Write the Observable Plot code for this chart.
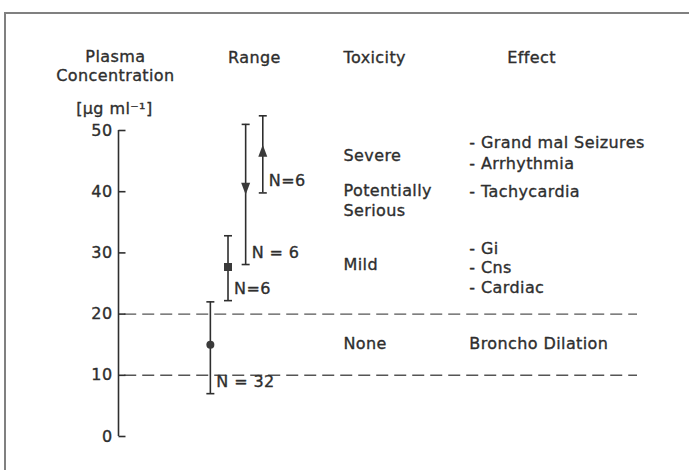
<!DOCTYPE html>
<html>
<head>
<meta charset="utf-8">
<script src="https://cdn.jsdelivr.net/npm/d3@7"></script>
<script src="https://cdn.jsdelivr.net/npm/@observablehq/plot@0.6"></script>
<style>
  html, body { margin: 0; padding: 0; background: #fff; overflow: hidden; }
  #wrap { position: relative; width: 689px; height: 470px; }
  #frame { position: absolute; left: 4px; top: 12px; width: 700px; height: 480px;
           border-top: 2px solid #808080; border-left: 2px solid #808080; box-sizing: border-box; }
  #chart { position: absolute; left: 0; top: 0; }
  #chart text { letter-spacing: 0.4px; }
</style>
</head>
<body>
<div id="wrap"><div id="frame"></div><div id="chart"></div></div>
<script>
// ---- data ----
const groups   = ["g1", "g2", "g3", "g4"];
const groupX   = [17.7, 21.1, 24.5, 27.8];      // position along the "Range" column
const midVal   = [15, 27.7, 40.5, 46.7];
const lowVal   = [7, 22.2, 28.1, 39.8];
const highVal  = [22, 32.8, 51, 52.4];
const nLabels  = ["N = 32", "N=6", "N = 6", "N=6"];
const markers  = ["circle", "square", "triangleDown", "triangleUp"];

const yTicks   = [0, 10, 20, 30, 40, 50];
const thresholds = [10, 20];

const toxLabels = ["Severe", "Potentially", "Serious", "Mild", "None"];
const toxY      = [45.9, 40.2, 36.8, 28.1, 15.2];

const effectLabels = ["- Grand mal Seizures", "- Arrhythmia", "- Tachycardia", "- Gi", "- Cns", "- Cardiac", "Broncho Dilation"];
const effectY      = [47.9, 44.6, 40.0, 30.7, 27.5, 24.3, 15.2];

const headers  = ["Plasma", "Concentration", "[µg ml⁻¹]", "Range", "Toxicity", "Effect"];
const headerX  = [-0.6, -0.6, -0.8, 26.2, 43.35, 79.6];
const headerDy = [-80, -61, -28, -79, -79, -79];
const headerAnchor = ["middle", "middle", "middle", "middle", "start", "middle"];

const toxX = 43.35, effectX = 67.6;

// ---- build rows ----
const bars = groups.map((g, i) => ({g, x: groupX[i], mid: midVal[i], low: lowVal[i], high: highVal[i], n: nLabels[i], m: markers[i]}));
const caps = bars.flatMap(d => [{x: d.x, y: d.low}, {x: d.x, y: d.high}]);
const tox = toxLabels.map((t, i) => ({t, y: toxY[i]}));
const eff = effectLabels.map((t, i) => ({t, y: effectY[i]}));
const hdr = headers.map((t, i) => ({t, x: headerX[i], dy: headerDy[i], a: headerAnchor[i]}));

// custom symbols
const triDown = {draw(c) { c.moveTo(-4.5, -6); c.lineTo(4.5, -6); c.lineTo(0, 6); c.closePath(); }};
const triUp   = {draw(c) { c.moveTo(-4.5, 6); c.lineTo(4.5, 6); c.lineTo(0, -6); c.closePath(); }};
const square  = {draw(c) { c.rect(-4, -4, 8, 8); }};
const circle  = {draw(c) { c.moveTo(4, 0); c.arc(0, 0, 4, 0, 2 * Math.PI); }};
const capSym  = {draw(c) { c.moveTo(-4, 0); c.lineTo(4, 0); }};
const tickSym = {draw(c) { c.moveTo(0, 0); c.lineTo(7, 0); }};
const symMap = {circle, square, triangleDown: triDown, triangleUp: triUp};

const ink = "#2e2e2e";
const font = "DejaVu Sans, sans-serif";
const fs = 16;
const txt = {fill: ink, stroke: ink, strokeWidth: 0.35, fontSize: fs};

const chart = Plot.plot({
  width: 689,
  height: 470,
  marginTop: 130,
  marginBottom: 34,
  marginLeft: 118,
  marginRight: 52,
  style: {fontFamily: font, fontSize: fs + "px", color: ink, background: "transparent"},
  x: {domain: [0, 100], axis: null},
  y: {domain: [0, 50], axis: null},
  marks: [
    // threshold dashed lines
    Plot.ruleY(thresholds, {x1: 1.2, x2: 100, stroke: "#555", strokeWidth: 1.4, strokeDasharray: "12,6"}),
    // y axis line
    Plot.ruleX([0], {y1: 0, y2: 50, stroke: ink, strokeWidth: 1.6}),
    // y ticks pointing inward
    Plot.dot(yTicks, {x: 0, y: d => d, symbol: tickSym, stroke: ink, strokeWidth: 1.6, fill: "none"}),
    Plot.text(yTicks, {x: 0, y: d => d, text: d => String(d), textAnchor: "end", dx: -6, ...txt}),
    // error bars
    Plot.ruleX(bars, {x: "x", y1: "low", y2: "high", stroke: ink, strokeWidth: 1.6}),
    Plot.dot(caps, {x: "x", y: "y", symbol: capSym, stroke: ink, strokeWidth: 1.6, fill: "none"}),
    Plot.dot(bars, {x: "x", y: "mid", symbol: d => symMap[d.m], fill: "#3a3a3a", stroke: "none"}),
    Plot.text(bars, {x: "x", y: "low", text: "n", textAnchor: "start", dx: 6, dy: -12, ...txt}),
    // toxicity and effect columns
    Plot.text(tox, {x: toxX, y: "y", text: "t", textAnchor: "start", ...txt}),
    Plot.text(eff, {x: effectX, y: "y", text: "t", textAnchor: "start", ...txt}),
    // headers
    ...hdr.map(h => Plot.text([h], {x: "x", frameAnchor: "top", dy: h.dy, text: "t", textAnchor: h.a, ...txt}))
  ]
});
document.getElementById("chart").appendChild(chart);
</script>
</body>
</html>
